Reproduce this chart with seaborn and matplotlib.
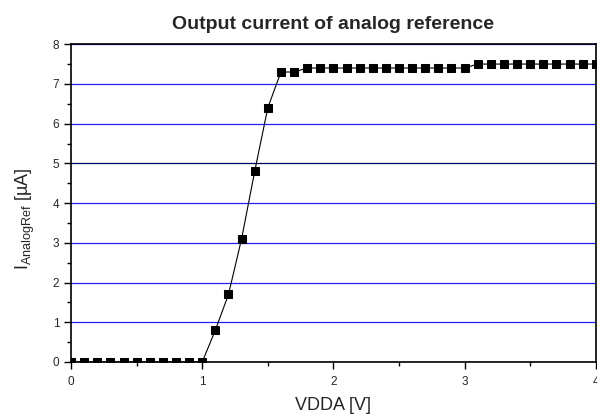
import numpy as np
import pandas as pd
import matplotlib
matplotlib.use('Agg')
import matplotlib.pyplot as plt
import seaborn as sns
from matplotlib.ticker import MultipleLocator

vdda = [0.0, 0.1, 0.2, 0.3, 0.4, 0.5, 0.6, 0.7, 0.8, 0.9, 1.0,
        1.1, 1.2, 1.3, 1.4, 1.5, 1.6, 1.7, 1.8, 1.9, 2.0,
        2.1, 2.2, 2.3, 2.4, 2.5, 2.6, 2.7, 2.8, 2.9, 3.0,
        3.1, 3.2, 3.3, 3.4, 3.5, 3.6, 3.7, 3.8, 3.9, 4.0]
current = [0, 0, 0, 0, 0, 0, 0, 0, 0, 0, 0,
           0.8, 1.7, 3.1, 4.8, 6.4, 7.3, 7.3, 7.4, 7.4, 7.4,
           7.4, 7.4, 7.4, 7.4, 7.4, 7.4, 7.4, 7.4, 7.4, 7.4,
           7.5, 7.5, 7.5, 7.5, 7.5, 7.5, 7.5, 7.5, 7.5, 7.5]

df = pd.DataFrame({'VDDA': vdda, 'I': current})

sns.set_style('ticks')
plt.rcParams['font.family'] = ['Liberation Sans', 'DejaVu Sans']
plt.rcParams['mathtext.fontset'] = 'custom'
plt.rcParams['mathtext.rm'] = 'Liberation Sans'
plt.rcParams['mathtext.it'] = 'Liberation Sans'

fig = plt.figure(figsize=(5.97, 4.17), dpi=100)
ax = fig.add_axes([0.119, 0.132, 0.879, 0.762])

ax.yaxis.grid(True, color='#2020ff', linewidth=0.9)
ax.set_axisbelow(True)

sns.lineplot(data=df, x='VDDA', y='I', ax=ax, color='black', linewidth=0.8,
             marker='s', markersize=5.5, markeredgecolor='black')

ax.set_xlim(0, 4)
ax.set_ylim(0, 8)
ax.xaxis.set_major_locator(MultipleLocator(1))
ax.xaxis.set_minor_locator(MultipleLocator(0.5))
ax.yaxis.set_major_locator(MultipleLocator(1))
ax.yaxis.set_minor_locator(MultipleLocator(0.5))
ax.tick_params(which='major', direction='out', length=5, width=1, labelsize=8.5, color='black')
ax.tick_params(which='minor', direction='out', length=3, width=1, color='black')
ax.tick_params(axis='x', which='major', pad=5)

# the 5 µA line is drawn darker in the original
for loc, gl in zip(ax.yaxis.get_majorticklocs(), ax.get_ygridlines()):
    if abs(loc - 5) < 1e-9:
        gl.set_color('#000060')

for s in ax.spines.values():
    s.set_color('black')
    s.set_linewidth(1.2)

ax.set_xlabel('VDDA [V]', fontsize=13, labelpad=6.5)
ax.set_ylabel(r'I$_{\mathrm{AnalogRef}}$ [µA]', fontsize=13)
ax.yaxis.set_label_coords(-0.065, 0.45)
ax.set_title('Output current of analog reference', fontsize=14, fontweight='bold', pad=11)

fig.savefig('out.png', dpi=100)
